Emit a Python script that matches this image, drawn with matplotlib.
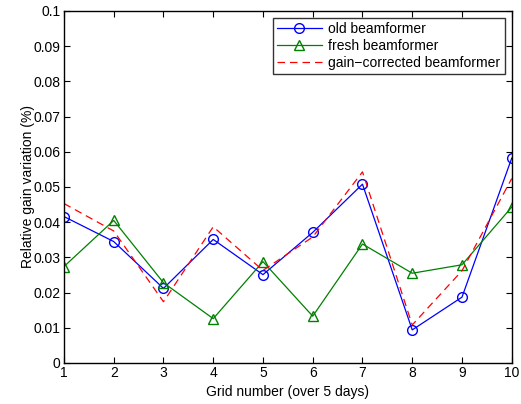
import matplotlib
matplotlib.use("Agg")
import matplotlib.pyplot as plt

grid = [1, 2, 3, 4, 5, 6, 7, 8, 9, 10]
old_bf = [0.0416, 0.0345, 0.0212, 0.0351, 0.0251, 0.0371, 0.0508, 0.0094, 0.0187, 0.0582]
fresh_bf = [0.0274, 0.0405, 0.0228, 0.0126, 0.0288, 0.0133, 0.0338, 0.0255, 0.0279, 0.0443]
gain_corr_bf = [0.0453, 0.0375, 0.0174, 0.0387, 0.0263, 0.0358, 0.0543, 0.0108, 0.0262, 0.0524]
ytick_labels = ['0', '0.01', '0.02', '0.03', '0.04', '0.05', '0.06', '0.07', '0.08', '0.09', '0.1']

plt.rcParams['font.family'] = ['Liberation Sans', 'DejaVu Sans']

fig = plt.figure(figsize=(5.21, 4.04), dpi=100)
ax = fig.add_axes([0.1228, 0.1015, 0.8594, 0.8713])

ax.plot(grid, old_bf, color='#0000ff', marker='o', markersize=7, markerfacecolor='none',
        markeredgecolor='#0000ff', linewidth=0.9, label='old beamformer')
ax.plot(grid, fresh_bf, color='#008000', marker='^', markersize=7, markerfacecolor='none',
        markeredgecolor='#008000', linewidth=0.9, label='fresh beamformer')
ax.plot(grid, gain_corr_bf, color='#ff0000', linestyle=(0, (6, 4)), linewidth=0.9,
        label='gain\u2212corrected beamformer')

ax.set_xlim(1, 10)
ax.set_ylim(0, 0.1)
ax.set_xticks(grid)
ax.set_yticks([i / 100 for i in range(11)])
ax.set_yticklabels(ytick_labels)
ax.tick_params(direction='in', top=True, right=True, labelsize=10, length=4, width=0.8, pad=2.5)
for s in ax.spines.values():
    s.set_linewidth(1.0)

ax.set_xlabel('Grid number (over 5 days)', fontsize=10)
ax.set_ylabel('Relative gain variation (%)', fontsize=10)
ax.xaxis.set_label_coords(0.5, -0.082, transform=ax.transAxes)
ax.yaxis.set_label_coords(-0.080, 0.5, transform=ax.transAxes)
ax.xaxis.label.set_va('center')
ax.yaxis.label.set_va('center')

leg = ax.legend(loc='upper right', fontsize=10, frameon=True, fancybox=False,
                edgecolor='black', handlelength=3.2, borderpad=0.3, labelspacing=0.22,
                handletextpad=0.5, borderaxespad=0.5)
leg.get_frame().set_linewidth(1.0)

fig.savefig('out.png', dpi=100)
